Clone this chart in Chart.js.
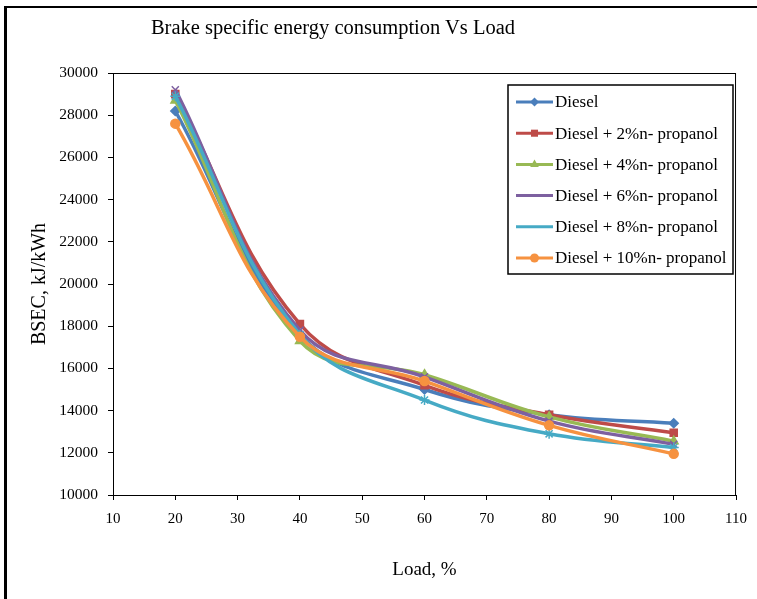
<!DOCTYPE html>
<html>
<head>
<meta charset="utf-8">
<script src="https://cdn.jsdelivr.net/npm/chart.js@4.4.1/dist/chart.umd.min.js"></script>
<style>
  html, body { margin: 0; padding: 0; background: #fff; }
  #wrap { position: relative; width: 757px; height: 599px; overflow: hidden; }
  #frame { position: absolute; left: 4px; top: 6px; width: 800px; height: 700px;
           border-left: 3px solid #000; border-top: 2px solid #000; }
  #title { position: absolute; left: 0; width: 666px; top: 16px; text-align: center;
           font: 20.5px "Liberation Serif", "DejaVu Serif", serif; color: #000; }
  canvas { position: absolute; left: 0; top: 0; }
</style>
</head>
<body>
<div id="wrap">
  <div id="frame"></div>
  <canvas id="bsecChart" width="757" height="599"></canvas>
  <div id="title">Brake specific energy consumption Vs Load</div>
</div>
<script>
// load, % (x values)
const loads = [20, 40, 60, 80, 100];
// BSEC, kJ/kWh
const diesel = [28200, 17600, 15000, 13800, 13400];
const np2    = [29000, 18100, 15200, 13800, 12950];
const np4    = [28700, 17300, 15700, 13700, 12550];
const np6    = [29200, 17800, 15600, 13500, 12400];
const np8    = [28900, 17600, 14500, 12900, 12250];
const np10   = [27600, 17500, 15400, 13300, 11950];

const seriesNames = ['Diesel', 'Diesel + 2%n- propanol', 'Diesel + 4%n- propanol',
  'Diesel + 6%n- propanol', 'Diesel + 8%n- propanol', 'Diesel + 10%n- propanol'];
const seriesData = [diesel, np2, np4, np6, np8, np10];
const colors = ['#4A7EBB', '#BE4B48', '#98B954', '#7D60A0', '#46AAC5', '#F69240'];
const markers = ['rectRot', 'rect', 'triangle', 'crossRot', 'star', 'circle'];
const markerSize = [4.5, 5, 5, 5, 5, 4.5];

const SERIF = '"Liberation Serif", "DejaVu Serif", serif';

// box round the plot area (Excel style)
const plotBox = {
  id: 'plotBox',
  afterDatasetsDraw(chart) {
    const {ctx, chartArea: a} = chart;
    ctx.save();
    ctx.strokeStyle = '#000';
    ctx.lineWidth = 1;
    ctx.strokeRect(a.left + 0.5, a.top + 0.5, a.right - a.left - 1, a.bottom - a.top);
    ctx.restore();
  }
};

// legend drawn inside the plot area, top right
const boxLegend = {
  id: 'boxLegend',
  afterDraw(chart) {
    const ctx = chart.ctx;
    const x0 = 508, y0 = 85, w = 225, h = 189;
    ctx.save();
    ctx.fillStyle = '#fff';
    ctx.fillRect(x0, y0, w, h);
    ctx.strokeStyle = '#000';
    ctx.lineWidth = 1.5;
    ctx.strokeRect(x0, y0, w, h);
    ctx.font = '17px ' + SERIF;
    ctx.textBaseline = 'middle';
    chart.data.datasets.forEach((ds, i) => {
      const y = 102 + i * 31.2;
      ctx.strokeStyle = ds.borderColor;
      ctx.lineWidth = 3;
      ctx.beginPath();
      ctx.moveTo(516, y);
      ctx.lineTo(553, y);
      ctx.stroke();
      ctx.fillStyle = ds.borderColor;
      ctx.lineWidth = 1.5;
      Chart.helpers.drawPoint(ctx, {pointStyle: ds.pointStyle, radius: ds.pointRadius, rotation: 0}, 534.5, y);
      ctx.fillStyle = '#000';
      ctx.fillText(ds.label, 555, y + 1);
    });
    ctx.restore();
  }
};

const datasets = seriesData.map((vals, i) => ({
  label: seriesNames[i],
  data: loads.map((x, k) => ({x: x, y: vals[k]})),
  borderColor: colors[i],
  backgroundColor: colors[i],
  pointBackgroundColor: colors[i],
  pointBorderColor: colors[i],
  pointStyle: markers[i],
  pointRadius: markerSize[i],
  pointBorderWidth: 1.5,
  borderWidth: 3.5,
  tension: 0.4,
  order: 5 - i
}));

new Chart(document.getElementById('bsecChart'), {
  type: 'line',
  data: {datasets},
  plugins: [plotBox, boxLegend],
  options: {
    responsive: false,
    animation: false,
    devicePixelRatio: 1,
    layout: {padding: {top: 73, right: 20, left: 0, bottom: 0}},
    plugins: {legend: {display: false}, tooltip: {enabled: false}},
    scales: {
      x: {
        type: 'linear', min: 10, max: 110,
        afterFit(s) { s.height = 104; },
        ticks: {stepSize: 10, color: '#000', padding: 10, font: {family: SERIF, size: 15},
                callback: v => String(v)},
        grid: {drawOnChartArea: false, drawTicks: true, tickLength: 5, color: '#000'},
        border: {color: '#000', width: 1},
        title: {display: true, text: 'Load, %', color: '#000', padding: {top: 0, bottom: 18},
                font: {family: SERIF, size: 19}}
      },
      y: {
        min: 10000, max: 30000,
        afterFit(s) { s.width = 113; },
        ticks: {stepSize: 2000, color: '#000', padding: 10, font: {family: SERIF, size: 15.5},
                callback: v => String(v)},
        grid: {drawOnChartArea: false, drawTicks: true, tickLength: 5, color: '#000'},
        border: {color: '#000', width: 1},
        title: {display: true, text: 'BSEC, kJ/kWh', color: '#000', padding: {top: 28, bottom: 0},
                font: {family: SERIF, size: 20}}
      }
    }
  }
});
</script>
</body>
</html>
